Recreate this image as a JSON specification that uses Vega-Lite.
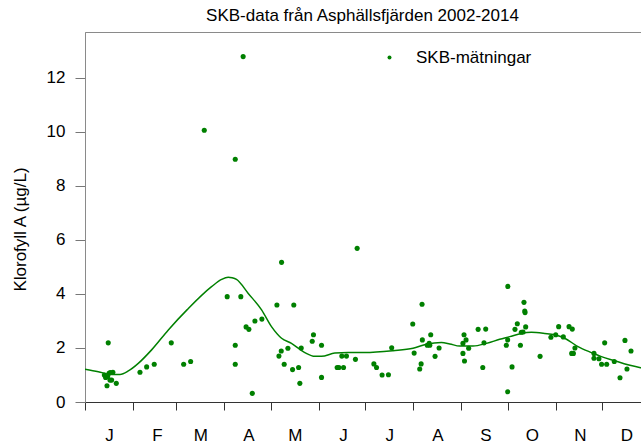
{
  "$schema": "https://vega.github.io/schema/vega-lite/v6.json",
  "autosize": "none",
  "width": 557,
  "height": 370,
  "padding": {"left": 85, "top": 32, "right": 0, "bottom": 41},
  "background": "white",
  "config": {
    "font": "Liberation Sans",
    "view": {"stroke": "#8a8a8a", "strokeWidth": 1},
    "axis": {"grid": false, "labelFont": "Liberation Sans", "titleFont": "Liberation Sans", "labelColor": "#000", "titleColor": "#000", "titleFontWeight": "normal"}
  },
  "title": {"text": "SKB-data från Asphällsfjärden 2002-2014", "fontSize": 17, "fontWeight": "normal", "font": "Liberation Sans", "color": "#000", "anchor": "middle", "dx": -1, "offset": 7},
  "datasets": {
    "punkter": [
      {"dag": 15, "varde": 2.19}, {"dag": 12.5, "varde": 1.0}, {"dag": 13.3, "varde": 0.91}, {"dag": 15.5, "varde": 1.06},
      {"dag": 16.3, "varde": 1.09}, {"dag": 18, "varde": 1.1}, {"dag": 16.1, "varde": 0.81}, {"dag": 17.2, "varde": 0.81},
      {"dag": 14.2, "varde": 0.6}, {"dag": 20.2, "varde": 0.69}, {"dag": 14.6, "varde": 0.94}, {"dag": 35.5, "varde": 1.1},
      {"dag": 39.8, "varde": 1.3}, {"dag": 44.7, "varde": 1.4}, {"dag": 55.7, "varde": 2.19}, {"dag": 63.7, "varde": 1.4},
      {"dag": 68.2, "varde": 1.5}, {"dag": 91.8, "varde": 3.9}, {"dag": 100.6, "varde": 3.9}, {"dag": 97, "varde": 2.1},
      {"dag": 97, "varde": 1.4}, {"dag": 104, "varde": 2.78}, {"dag": 105.8, "varde": 2.69}, {"dag": 109.7, "varde": 3.0},
      {"dag": 114.2, "varde": 3.07}, {"dag": 108, "varde": 0.32}, {"dag": 126.9, "varde": 5.17}, {"dag": 123.9, "varde": 3.59},
      {"dag": 134.8, "varde": 3.59}, {"dag": 125.2, "varde": 1.7}, {"dag": 126.7, "varde": 1.89}, {"dag": 131, "varde": 1.99},
      {"dag": 128.6, "varde": 1.4}, {"dag": 134, "varde": 1.2}, {"dag": 137.9, "varde": 1.28}, {"dag": 138.7, "varde": 0.69},
      {"dag": 139.6, "varde": 2.0}, {"dag": 146.7, "varde": 2.25}, {"dag": 147.5, "varde": 2.49}, {"dag": 152.7, "varde": 2.1},
      {"dag": 152.7, "varde": 0.91}, {"dag": 162.8, "varde": 1.28}, {"dag": 163.9, "varde": 1.28}, {"dag": 165.8, "varde": 1.7},
      {"dag": 168.8, "varde": 1.7}, {"dag": 166.9, "varde": 1.28}, {"dag": 174.6, "varde": 1.58}, {"dag": 175.7, "varde": 5.69},
      {"dag": 198, "varde": 2.01}, {"dag": 186.5, "varde": 1.41}, {"dag": 188.2, "varde": 1.28}, {"dag": 191.8, "varde": 1.0},
      {"dag": 195.9, "varde": 1.01}, {"dag": 211.6, "varde": 2.89}, {"dag": 217.6, "varde": 3.62}, {"dag": 212.5, "varde": 1.81},
      {"dag": 217, "varde": 1.41}, {"dag": 216.1, "varde": 1.22}, {"dag": 217.8, "varde": 2.3}, {"dag": 223.2, "varde": 2.49},
      {"dag": 221, "varde": 2.1}, {"dag": 222.2, "varde": 2.17}, {"dag": 222.6, "varde": 2.1}, {"dag": 228.6, "varde": 2.0},
      {"dag": 226, "varde": 1.69}, {"dag": 244, "varde": 2.17}, {"dag": 244.7, "varde": 2.49}, {"dag": 246, "varde": 2.3},
      {"dag": 247.7, "varde": 1.99}, {"dag": 244, "varde": 1.8}, {"dag": 245, "varde": 1.52}, {"dag": 253.8, "varde": 2.69},
      {"dag": 258.7, "varde": 2.7}, {"dag": 257.6, "varde": 2.19}, {"dag": 256.8, "varde": 1.28}, {"dag": 273, "varde": 4.28},
      {"dag": 272, "varde": 2.1}, {"dag": 272.9, "varde": 2.3}, {"dag": 272.9, "varde": 0.38}, {"dag": 275.7, "varde": 1.3},
      {"dag": 279.1, "varde": 2.9}, {"dag": 277.6, "varde": 2.69}, {"dag": 281.7, "varde": 2.58}, {"dag": 282.8, "varde": 2.59},
      {"dag": 281.1, "varde": 2.1}, {"dag": 283.4, "varde": 3.69}, {"dag": 283.9, "varde": 3.37}, {"dag": 284.1, "varde": 3.31},
      {"dag": 284.5, "varde": 2.78}, {"dag": 293.8, "varde": 1.69}, {"dag": 300.8, "varde": 2.4}, {"dag": 303.9, "varde": 2.49},
      {"dag": 305.8, "varde": 2.79}, {"dag": 308.8, "varde": 2.41}, {"dag": 312.5, "varde": 2.79}, {"dag": 314.6, "varde": 2.7},
      {"dag": 316.3, "varde": 2.0}, {"dag": 315.3, "varde": 1.8}, {"dag": 314.2, "varde": 1.8}, {"dag": 328.6, "varde": 1.8},
      {"dag": 328.6, "varde": 1.62}, {"dag": 331.8, "varde": 1.6}, {"dag": 333.5, "varde": 1.4}, {"dag": 336.8, "varde": 1.4},
      {"dag": 335.5, "varde": 2.19}, {"dag": 341.7, "varde": 1.5}, {"dag": 345.4, "varde": 0.9}, {"dag": 348.6, "varde": 2.28},
      {"dag": 349.9, "varde": 1.22}, {"dag": 352.5, "varde": 1.89}, {"dag": 102.1, "varde": 12.79}, {"dag": 77, "varde": 10.06},
      {"dag": 97, "varde": 8.99}
    ],
    "kurva": [
      {"dag": 0, "varde": 1.21}, {"dag": 8.6, "varde": 1.12}, {"dag": 17.2, "varde": 1.02}, {"dag": 22.6, "varde": 1.02},
      {"dag": 28, "varde": 1.15}, {"dag": 34.4, "varde": 1.43}, {"dag": 43, "varde": 1.93}, {"dag": 53.8, "varde": 2.67},
      {"dag": 66, "varde": 3.42}, {"dag": 81.7, "varde": 4.27}, {"dag": 88.2, "varde": 4.54},
      {"dag": 92.5, "varde": 4.62}, {"dag": 95, "varde": 4.6}, {"dag": 97.8, "varde": 4.54}, {"dag": 105.4, "varde": 4.02},
      {"dag": 114, "varde": 3.41}, {"dag": 120.4, "varde": 2.79}, {"dag": 126.9, "varde": 2.36}, {"dag": 133.3, "varde": 2.17},
      {"dag": 141.9, "varde": 1.83}, {"dag": 148.4, "varde": 1.69}, {"dag": 152.7, "varde": 1.69}, {"dag": 161.3, "varde": 1.81},
      {"dag": 169.9, "varde": 1.83}, {"dag": 180.6, "varde": 1.83}, {"dag": 198.9, "varde": 1.9}, {"dag": 211.8, "varde": 1.99},
      {"dag": 220.5, "varde": 2.14}, {"dag": 230.1, "varde": 2.2}, {"dag": 235.5, "varde": 2.15}, {"dag": 241.9, "varde": 2.07},
      {"dag": 250.5, "varde": 2.07}, {"dag": 259.2, "varde": 2.17}, {"dag": 267.7, "varde": 2.32}, {"dag": 274.2, "varde": 2.42},
      {"dag": 281.7, "varde": 2.54}, {"dag": 288.2, "varde": 2.58}, {"dag": 296.8, "varde": 2.54}, {"dag": 303.2, "varde": 2.49},
      {"dag": 309.7, "varde": 2.36}, {"dag": 318.3, "varde": 2.05}, {"dag": 326.9, "varde": 1.83}, {"dag": 333.4, "varde": 1.68},
      {"dag": 341.9, "varde": 1.53}, {"dag": 350.5, "varde": 1.38}, {"dag": 358.7, "varde": 1.27}, {"dag": 365, "varde": 1.18}
    ]
  },
  "encoding": {
    "x": {
      "field": "dag", "type": "quantitative",
      "scale": {"domain": [0, 359.6], "nice": false, "zero": false},
      "axis": {
        "title": null,
        "values": [0, 31, 59, 90, 120, 151, 181, 212, 243, 273, 304, 334],
        "labelExpr": "['J','F','M','A','M','J','J','A','S','O','N','D'][indexof([0,31,59,90,120,151,181,212,243,273,304,334], datum.value)]",
        "labelOffset": 24, "labelFontSize": 17, "labelPadding": 17,
        "tickSize": 8, "tickColor": "#333", "domainColor": "#333",
        "labelOverlap": false, "labelBound": false, "labelFlush": false
      }
    },
    "y": {
      "field": "varde", "type": "quantitative",
      "scale": {"domain": [0, 13.7], "nice": false, "zero": true},
      "axis": {
        "title": "Klorofyll A (µg/L)", "titleFontSize": 17,
        "titleX": -65, "titleY": 197, "titleAngle": -90, "titleAlign": "center", "titleBaseline": "middle",
        "values": [0, 2, 4, 6, 8, 10, 12],
        "labelFontSize": 17, "labelPadding": 10,
        "tickSize": 10, "tickColor": "#777", "domainColor": "#8a8a8a"
      }
    }
  },
  "layer": [
    {
      "data": {"name": "kurva"},
      "mark": {"type": "line", "color": "#008000", "strokeWidth": 1.5, "interpolate": "monotone", "clip": true}
    },
    {
      "data": {"name": "punkter"},
      "transform": [{"calculate": "'SKB-mätningar'", "as": "serie"}],
      "mark": {"type": "point", "filled": true, "size": 26, "opacity": 1, "clip": true},
      "encoding": {
        "color": {
          "field": "serie", "type": "nominal",
          "scale": {"range": ["#008000"]},
          "legend": {"title": null, "orient": "none", "legendX": 296, "legendY": 17, "labelFontSize": 17, "labelFont": "Liberation Sans", "labelColor": "#000", "symbolSize": 16, "labelOffset": 18, "padding": 0, "symbolStrokeWidth": 0}
        }
      }
    }
  ]
}
